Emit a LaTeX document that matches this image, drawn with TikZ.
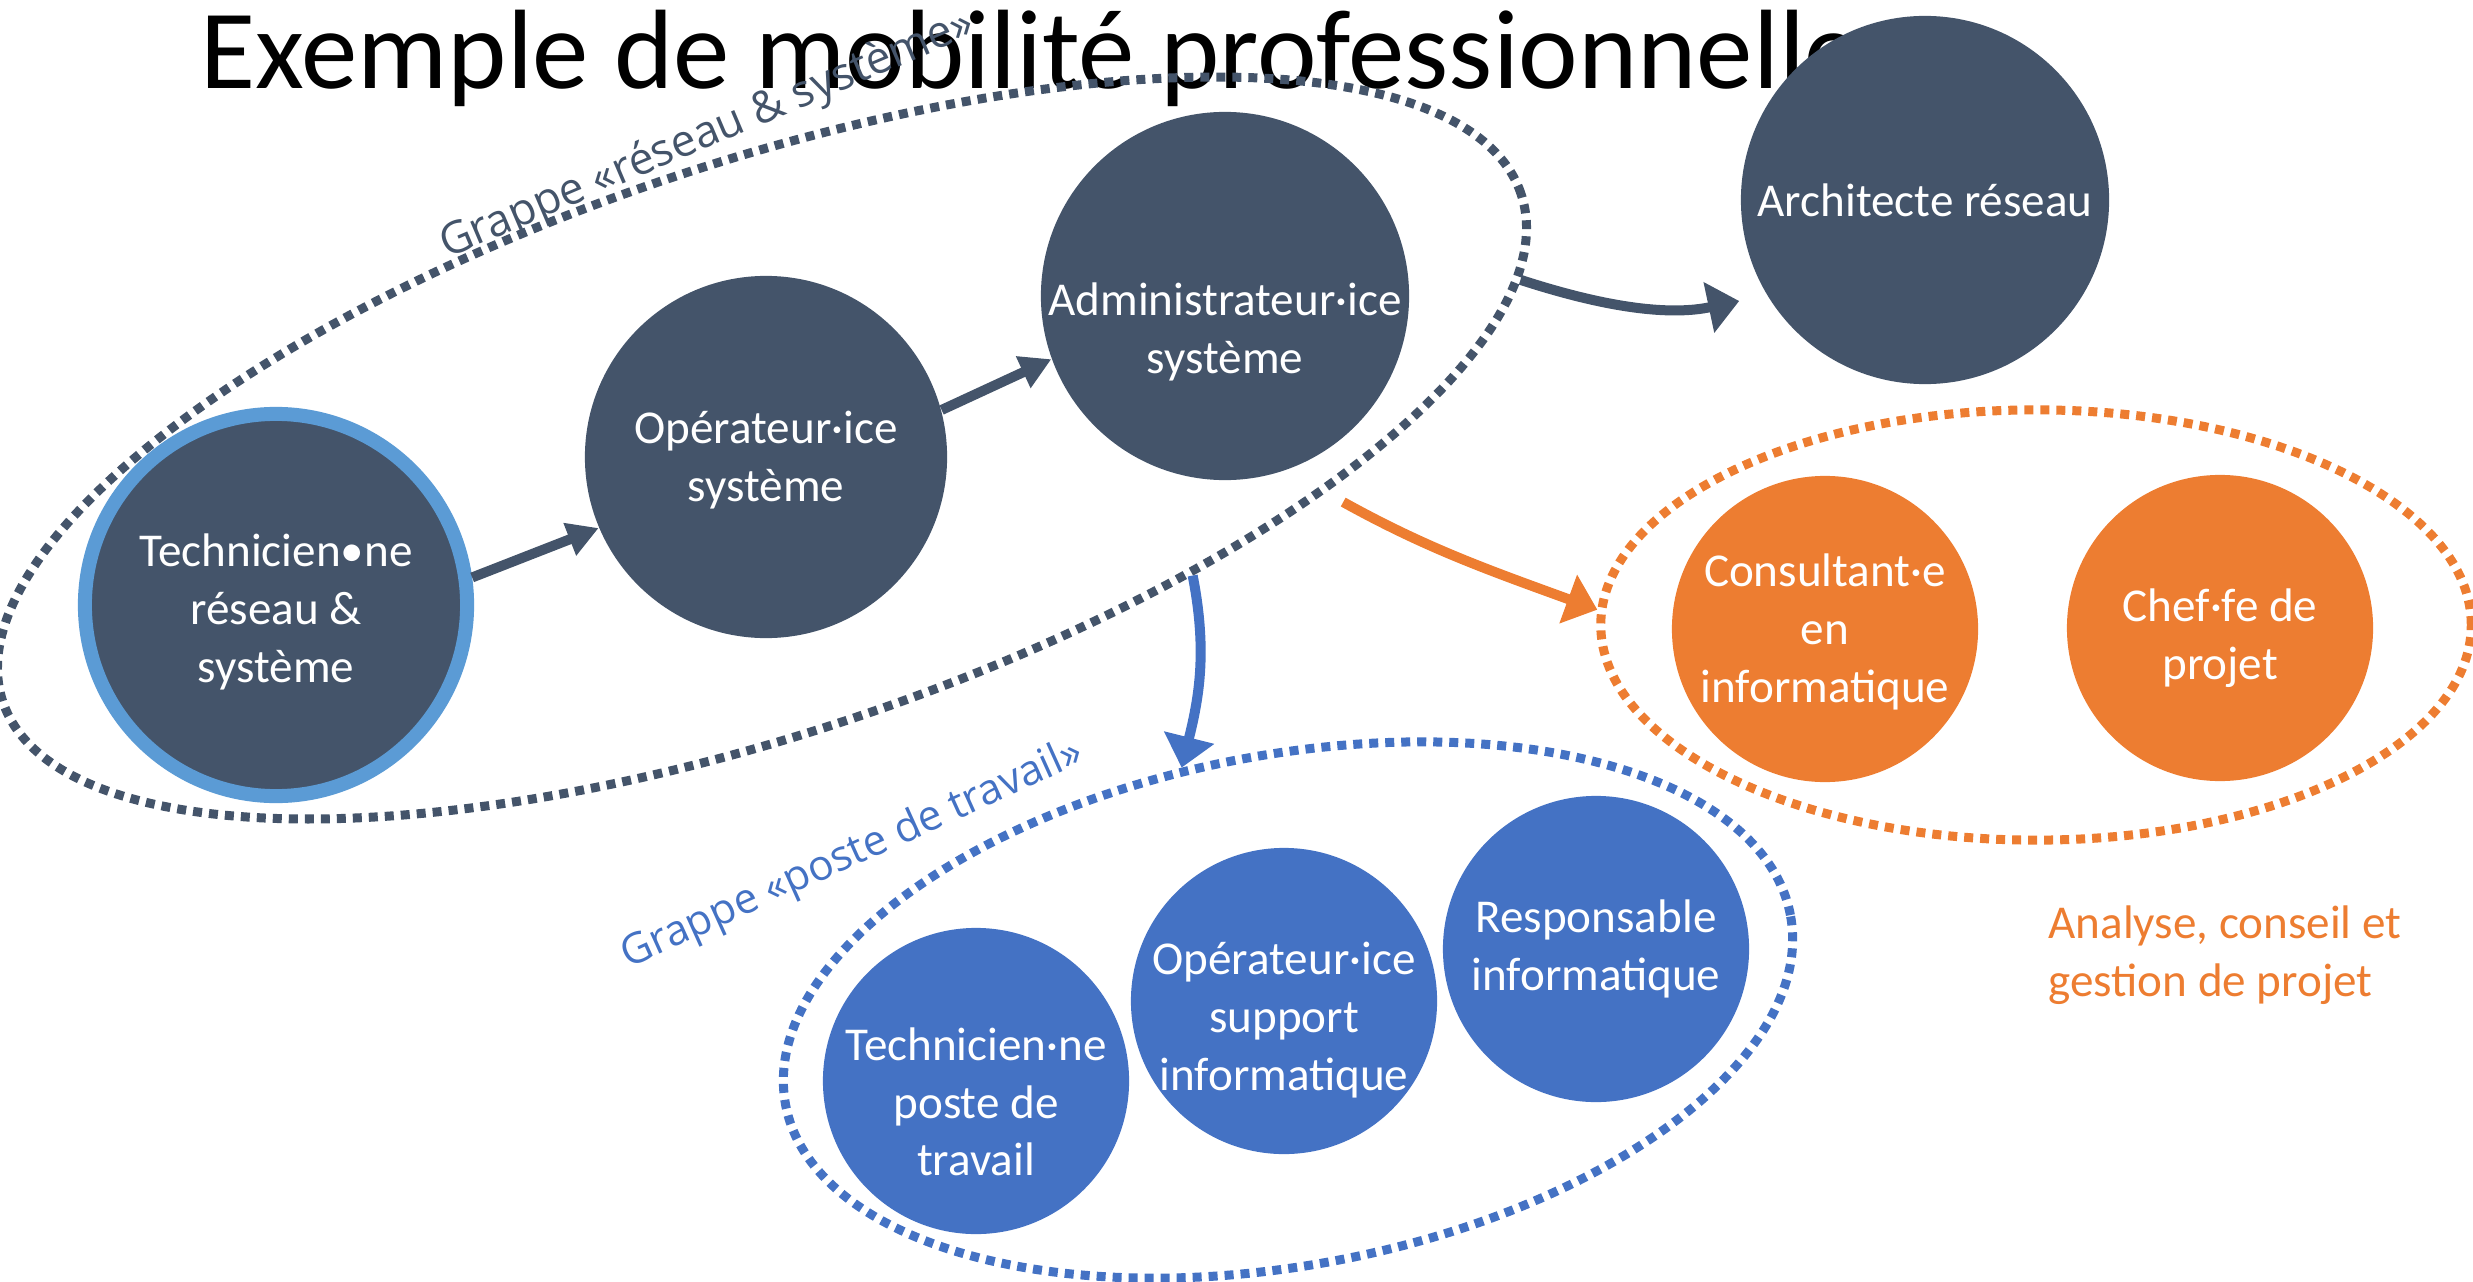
\documentclass[tikz,border=0pt]{standalone}
\usepackage{fontspec}
\setmainfont{Carlito}
\newfontfamily\grappefont{Open Sans}
\usetikzlibrary{arrows.meta,shapes.geometric}

\definecolor{navy}{HTML}{44546A}
\definecolor{ringblue}{HTML}{5B9BD5}
\definecolor{jobblue}{HTML}{4472C4}
\definecolor{joborange}{HTML}{ED7D31}

\tikzset{
  metier/.style={circle, inner sep=0pt, minimum size=3.66cm},
  metiertxt/.style={text=white, align=center, font=\fontsize{13.4}{16.4}\selectfont},
  grappe/.style={ellipse, inner sep=0pt, line width=0.09cm, dash pattern=on 0.09cm off 0.07cm},
  grappetxt/.style={anchor=base, font=\grappefont\fontsize{12}{14}\selectfont},
  fleche/.style={line width=0.1cm, -{Triangle[length=3.1mm,width=3.3mm]}},
  flechecourbe/.style={line width=0.1cm, -{Triangle[length=3.1mm,width=5mm]}}
}

\begin{document}
\begin{tikzpicture}[x=0.01cm,y=0.01cm]
        \useasboundingbox (0,0) rectangle (2473,-1282);

        \node[anchor=base west, font=\fontsize{32.1}{38.5}\selectfont] (titre) at(188,-89){Exemple de mobilité professionnelle};

        \node[metier, minimum size=3.82cm, fill=navy, draw=ringblue, line width=0.14cm, label={[metiertxt, yshift=-0.07cm]center:{Technicien•ne\\réseau \&\\système}}] (tech-res) at(276,-605){};
        \node[metier, minimum size=3.62cm, fill=navy, label={[metiertxt, yshift=-0.03cm]center:{Opérateur·ice\\système}}] (opsys) at(766,-457){};
        \node[metier, minimum size=3.68cm, fill=navy, label={[metiertxt, yshift=-0.36cm]center:{Administrateur·ice\\système}}] (admin) at(1225,-296){};
        \node[metier, minimum size=3.68cm, fill=navy, label={[metiertxt]center:{Architecte réseau}}] (arch) at(1925,-200){};

        \node[metier, minimum size=3.06cm, fill=joborange, label={[metiertxt, yshift=-0.03cm]center:{Consultant·e\\en\\informatique}}] (consult) at(1825,-629){};
        \node[metier, minimum size=3.06cm, fill=joborange, label={[metiertxt, yshift=-0.1cm]center:{Chef·fe de\\projet}}] (chef) at(2220,-628){};

        \node[metier, minimum size=3.06cm, fill=jobblue, label={[metiertxt, yshift=-0.21cm]center:{Technicien·ne\\poste de\\travail}}] (tech-poste) at(976,-1081){};
        \node[metier, minimum size=3.06cm, fill=jobblue, label={[metiertxt, yshift=-0.19cm]center:{Opérateur·ice\\support\\informatique}}] (op-support) at(1284,-1001){};
        \node[metier, minimum size=3.06cm, fill=jobblue, label={[metiertxt]center:{Responsable\\informatique}}] (resp) at(1596,-949){};

        \node[grappe, draw=navy, minimum width=16cm, minimum height=5.7cm, rotate=18.5] (grp-res) at(762,-448){};
        \node[grappe, draw=jobblue, minimum width=10.22cm, minimum height=5.1cm, rotate=10.7] (grp-poste) at(1288,-1010){};
        \node[grappe, draw=joborange, minimum width=8.7cm, minimum height=4.3cm] (grp-conseil) at(2036,-625){};

        \node[grappetxt, text=navy, rotate=23, font=\grappefont\fontsize{12.6}{14}\selectfont] (grp-res-txt) at(712,-146){Grappe «réseau \& système»};
        \node[grappetxt, text=jobblue, rotate=24.3] (grp-poste-txt) at(857,-865){Grappe «poste de travail»};
        \node[anchor=west, align=left, text=joborange, font=\fontsize{13.4}{16.4}\selectfont] (grp-conseil-txt) at(2036,-955){Analyse, conseil et\\gestion de projet};

        \draw[fleche, navy] (tech-res.8) -- (opsys.203);
        \draw[fleche, navy] (opsys.15) -- (admin.200);

        \draw[flechecourbe, navy, shorten >=0.28cm] (grp-res.-6) to[out=-18, in=192] (arch.211);
        \draw[flechecourbe, joborange, shorten <=0.2cm] (grp-res.-23) to[out=-29, in=160] (grp-conseil.178);
        \draw[flechecourbe, jobblue] (grp-res.-35) to[out=-79, in=76] (grp-poste.103);

\end{tikzpicture}
\end{document}
